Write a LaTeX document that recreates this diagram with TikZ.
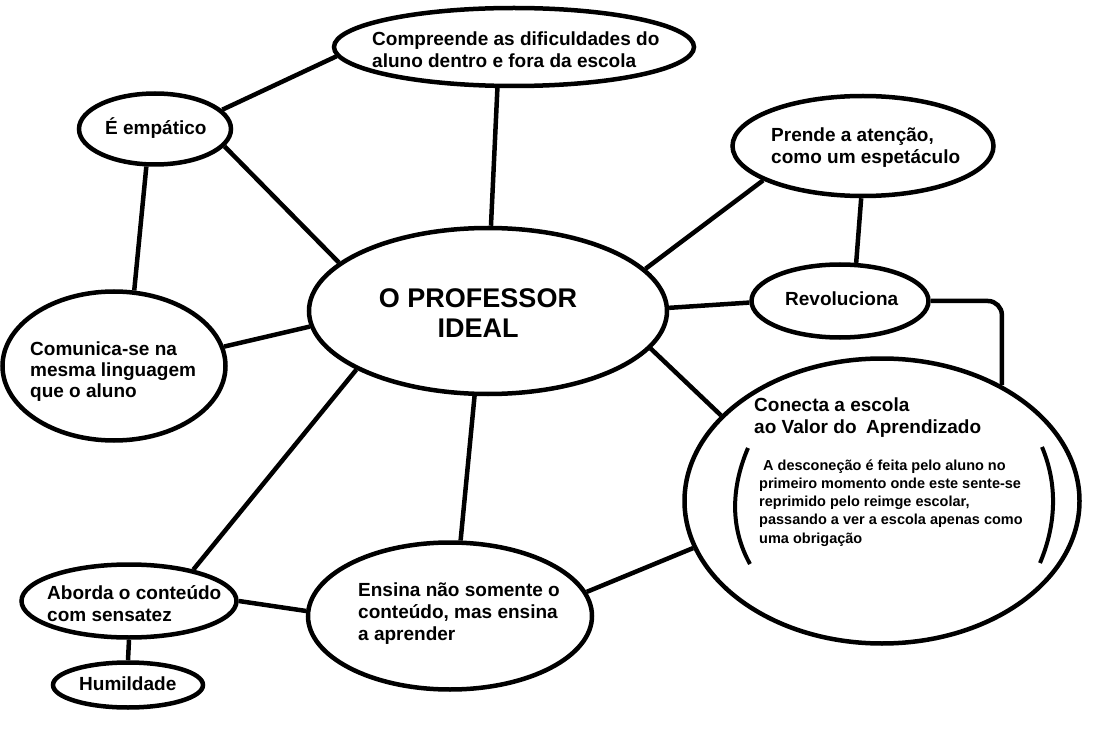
\documentclass[tikz,border=0pt]{standalone}
\usepackage{fontspec}
\setmainfont{Liberation Sans}
\usepackage{tikz}
\usetikzlibrary{shapes.geometric, positioning, calc}

\begin{document}
\begin{tikzpicture}[x=1pt, y=-1pt]
\tikzstyle{bubble}=[draw, ellipse, line width=4.5pt, inner sep=0pt]
\tikzstyle{txt}=[font=\fontsize{19}{22}\selectfont\bfseries, align=left, anchor=west, inner sep=0pt]
\tikzstyle{link}=[line width=4.5pt]
\useasboundingbox (0,0) rectangle (1104,730);

\node (comp) [bubble, minimum width=360pt, minimum height=78pt] at (514,47) {};
\node (emp) [bubble, minimum width=152pt, minimum height=71pt] at (155,129) {};
\node (ideal) [bubble, minimum width=358pt, minimum height=166pt] at (488,311) {};
\node (prende) [bubble, minimum width=261pt, minimum height=100pt] at (863,146) {};
\node (rev) [bubble, minimum width=177pt, minimum height=73pt] at (840,301) {};
\node (comu) [bubble, minimum width=223pt, minimum height=149pt] at (114,366) {};
\node (conecta) [bubble, minimum width=395pt, minimum height=285pt] at (882,501) {};
\node (aborda) [bubble, minimum width=215pt, minimum height=73pt] at (129,601) {};
\node (humil) [bubble, minimum width=150pt, minimum height=45pt] at (128,685) {};
\node (ensina) [bubble, minimum width=284pt, minimum height=147pt] at (450,616) {};

\node (compt) [txt] at (372,50) {Compreende as dificuldades do\\aluno dentro e fora da escola};
\node (empt) [txt] at (105,128) {É empático};
\node (idealt) [txt, anchor=center, align=center, font=\fontsize{27}{30}\selectfont\bfseries] at (478,313) {O PROFESSOR\\IDEAL};
\node (prendet) [txt] at (771,148) {Prende a atenção,\\como um espetáculo};
\node (revt) [txt] at (785,299) {Revoluciona};
\node (comut) [txt, font=\fontsize{19}{21}\selectfont\bfseries] at (30,372) {Comunica-se na\\mesma linguagem\\que o aluno};
\node (conectat) [txt] at (754,418) {Conecta a escola\\ao Valor do\hspace{0.5em}Aprendizado};
\node (conectab) [txt, font=\fontsize{14.5}{18.2}\selectfont\bfseries] at (759,503) {\hspace{4pt}A desconeção é feita pelo aluno no\\primeiro momento onde este sente-se\\reprimido pelo reimge escolar,\\passando a ver a escola apenas como\\uma obrigação};
\node (abordat) [txt] at (47,604) {Aborda o conteúdo\\com sensatez};
\node (humilt) [txt] at (79,684) {Humildade};
\node (ensinat) [txt] at (358,614) {Ensina não somente o\\conteúdo, mas ensina\\a aprender};

\draw [link] (comp.248) -- (ideal.88);
\draw [link] (emp.16) -- (comp.183);
\draw [link] (emp.-14) -- (ideal.162);
\draw [link] (emp.257) -- (comu.75);
\draw [link] (comu.10) -- (ideal.185);
\draw [link] (ideal.15) -- (prende.199);
\draw [link] (prende.268) -- (rev.67);
\draw [link] (ideal.1) -- (rev.181);
\draw [link, rounded corners=14pt] (rev.0) -- (rev.0 -| conecta.44) -- (conecta.44);
\draw [link] (ideal.-13) -- (conecta.152);
\draw [link] (ideal.204) -- (aborda.26);
\draw [link] (ideal.261) -- (ensina.82);
\draw [link] (aborda.0) -- (ensina.178);
\draw [link] (aborda.270) -- (humil.90);
\draw [link] (ensina.10) -- (conecta.194);

\draw [link, line width=4pt] (748,448) .. controls (730,490) and (731,530) .. (750,564);
\draw [link, line width=4pt] (1042,447) .. controls (1058,485) and (1056,525) .. (1040,563);

\end{tikzpicture}
\end{document}
